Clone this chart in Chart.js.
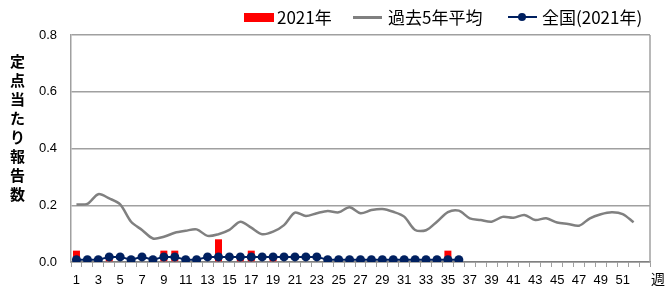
<!DOCTYPE html>
<html>
<head>
<meta charset="utf-8">
<script src="https://cdn.jsdelivr.net/npm/chart.js@4/dist/chart.umd.min.js"></script>
<style>
  body { margin: 0; background: #fff; }
  #wrap { position: relative; width: 666px; height: 286px; overflow: hidden; font-family: "Noto Sans CJK JP", sans-serif; background:#fff; }
  canvas { position: absolute; left: 0; top: 0; }
  .lgtext { position: absolute; top: 7px; font-size: 17px; line-height: 20px; color: #000; white-space: nowrap; }
  .mark { position: absolute; }
  #ytitle { position: absolute; left: 9px; top: 51px; width: 17px; font-size: 15px; line-height: 19px; font-weight: bold; color: #000; text-align: center; }
  #xunit { position: absolute; left: 651px; top: 269px; font-size: 14px; line-height: 18px; color: #000; }
</style>
</head>
<body>
<div id="wrap">
  <canvas id="c" width="666" height="286"></canvas>
  <div id="ytitle"></div>
  <div id="xunit"></div>
  <div id="legend"></div>
</div>
<script>
// ---------- data ----------
const weeks = ['1','2','3','4','5','6','7','8','9','10','11','12','13','14','15','16','17','18','19','20',
  '21','22','23','24','25','26','27','28','29','30','31','32','33','34','35','36','37','38','39','40',
  '41','42','43','44','45','46','47','48','49','50','51','52','53'];
const shownTicks = ['1','3','5','7','9','11','13','15','17','19','21','23','25','27','29','31','33','35',
  '37','39','41','43','45','47','49','51'];
const yTicks = [0, 0.2, 0.4, 0.6, 0.8];
const seriesNames = ['2021年', '過去5年平均', '全国(2021年)'];
const yTitle = '定点当たり報告数';
const xUnit = '週';

const local2021 = [0.04, 0, 0, 0.01, 0, 0, 0, 0, 0.04, 0.04, 0, 0, 0, 0.08, 0, 0.01, 0.04, 0, 0.01, 0,
  0, 0, 0, 0, 0, 0, 0, 0, 0, 0, 0, 0, 0, 0, 0.04, 0];
const avg5yr = [0.203, 0.205, 0.239, 0.224, 0.203, 0.142, 0.113, 0.083, 0.089, 0.103, 0.110, 0.115, 0.092,
  0.098, 0.113, 0.142, 0.121, 0.098, 0.107, 0.130, 0.174, 0.162, 0.172, 0.180, 0.175, 0.193, 0.172, 0.183,
  0.187, 0.177, 0.160, 0.113, 0.112, 0.142, 0.176, 0.181, 0.154, 0.148, 0.142, 0.159, 0.156, 0.166, 0.148,
  0.154, 0.139, 0.134, 0.128, 0.154, 0.168, 0.175, 0.169, 0.140];
const national2021 = [0.008, 0.008, 0.008, 0.018, 0.018, 0.008, 0.018, 0.008, 0.018, 0.018, 0.008, 0.008,
  0.018, 0.018, 0.018, 0.018, 0.018, 0.018, 0.018, 0.018, 0.018, 0.018, 0.018, 0.008, 0.008, 0.008, 0.008,
  0.008, 0.008, 0.008, 0.008, 0.008, 0.008, 0.008, 0.008, 0.008];

// ---------- styles ----------
const RED = '#ff0000', GRAY = '#808080', NAVY = '#002060', GRID = '#a0a0a0';

// y title (vertical stacked characters) and x unit
const yt = document.getElementById('ytitle');
for (const ch of yTitle) { const d = document.createElement('div'); d.textContent = ch; yt.appendChild(d); }
document.getElementById('xunit').textContent = xUnit;

// legend (HTML)
const lg = document.getElementById('legend');
function add(html) { lg.insertAdjacentHTML('beforeend', html); }
add(`<div class="mark" style="left:244px;top:13px;width:30px;height:9px;background:${RED}"></div>`);
add(`<div class="lgtext" style="left:277px">${seriesNames[0]}</div>`);
add(`<div class="mark" style="left:353px;top:16px;width:29px;height:3px;background:${GRAY}"></div>`);
add(`<div class="lgtext" style="left:388px">${seriesNames[1]}</div>`);
add(`<div class="mark" style="left:508px;top:16px;width:29px;height:2px;background:${NAVY}"></div>`);
add(`<div class="mark" style="left:518px;top:13px;width:8px;height:8px;border-radius:50%;background:${NAVY}"></div>`);
add(`<div class="lgtext" style="left:542px">${seriesNames[2]}</div>`);

const rightBorder = {
  id: 'rightBorder',
  afterDraw(chart) {
    const { ctx, chartArea: a } = chart;
    ctx.save();
    ctx.strokeStyle = GRID; ctx.lineWidth = 1.5;
    ctx.beginPath(); ctx.moveTo(a.right, a.top); ctx.lineTo(a.right, a.bottom); ctx.stroke();
    ctx.restore();
  }
};

new Chart(document.getElementById('c'), {
  type: 'bar',
  data: {
    labels: weeks,
    datasets: [
      { type: 'bar', label: seriesNames[0], data: local2021, backgroundColor: RED,
        categoryPercentage: 1, barPercentage: 0.64, order: 3 },
      { type: 'line', label: seriesNames[1], data: avg5yr, borderColor: GRAY, borderWidth: 2.5,
        pointRadius: 0, tension: 0.3, fill: false, order: 2 },
      { type: 'line', label: seriesNames[2], data: national2021, borderColor: NAVY, backgroundColor: NAVY,
        borderWidth: 2, pointRadius: 4.5, pointBackgroundColor: NAVY, pointBorderWidth: 0,
        tension: 0, fill: false, order: 1 }
    ]
  },
  options: {
    responsive: false,
    animation: false,
    devicePixelRatio: 1,
    layout: { padding: { top: 35, right: 16, left: 0, bottom: 0 } },
    plugins: { legend: { display: false }, tooltip: { enabled: false } },
    scales: {
      x: {
        offset: true,
        grid: { offset: true, drawOnChartArea: false, drawTicks: true, tickLength: 5, color: GRID, lineWidth: 1 },
        border: { color: GRAY, width: 1.5 },
        ticks: {
          autoSkip: false, maxRotation: 0, minRotation: 0, padding: 6,
          color: '#000', font: { family: 'Liberation Sans', size: 13 },
          callback: function (v, i) { const l = this.getLabelForValue(v); return shownTicks.includes(l) ? l : ''; }
        },
        afterFit(axis) { axis.height = 24; }
      },
      y: {
        min: yTicks[0], max: yTicks[yTicks.length - 1],
        afterBuildTicks(axis) { axis.ticks = yTicks.map(v => ({ value: v })); },
        grid: { drawTicks: false, color: GRID, lineWidth: 1.5 },
        border: { color: GRID, width: 1.5 },
        ticks: { padding: 14, color: '#000', font: { family: 'Liberation Sans', size: 13 },
          callback: v => v.toFixed(1) },
        afterFit(axis) { axis.width = 71; }
      }
    }
  },
  plugins: [rightBorder]
});
</script>
</body>
</html>
